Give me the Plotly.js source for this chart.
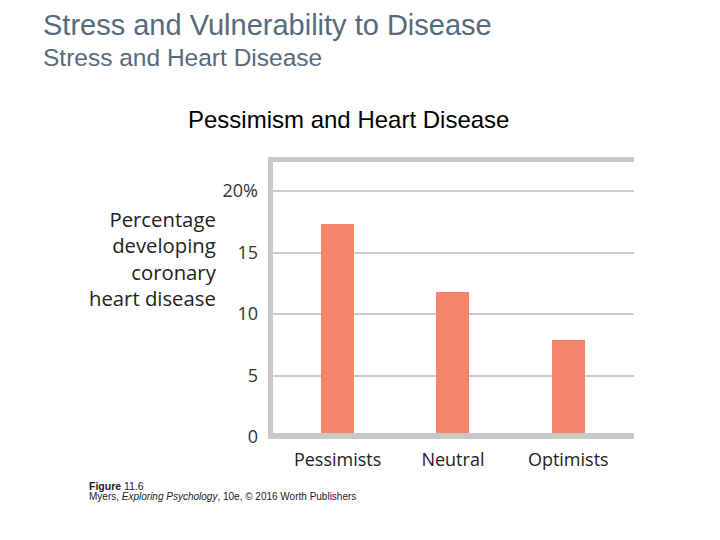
<!DOCTYPE html>
<html>
<head>
<meta charset="utf-8">
<script src="https://cdn.plot.ly/plotly-3.0.1.min.js"></script>
<style>html,body{margin:0;padding:0;background:#fff;}#chart{width:720px;height:540px;}</style>
</head>
<body>
<div id="chart"></div>
<script>
const categories = ["Pessimists", "Neutral", "Optimists"];
const percentages = [17.3, 11.8, 7.9];
const tickValues = [0, 5, 10, 15, 20];
const tickLabels = ["0", "5", "10", "15", "20%"];
const yTitleLines = ["Percentage", "developing", "coronary", "heart disease"];

const W = 720, H = 540;
const L = 273, R = 634, T = 162, B = 437;
const px = x => (x - L) / (R - L);
const py = y => (B - y) / (B - T);

const frameColor = "#c8c8c8";
const slate = "#566a7e";

const trace = {
  type: "bar",
  x: categories,
  y: percentages,
  width: 0.286,
  marker: {color: "#f4846a", line: {width: 0}},
  hoverinfo: "x+y"
};

const layout = {
  width: W, height: H,
  paper_bgcolor: "#ffffff",
  plot_bgcolor: "#ffffff",
  showlegend: false,
  margin: {l: L, r: W - R, t: T, b: H - B, pad: 0},
  bargap: 0,
  xaxis: {
    type: "category",
    range: [-0.56, 2.57],
    showgrid: false, zeroline: false, showline: false,
    ticks: "",
    tickfont: {family: "Open Sans", size: 18, color: "#222"},
    ticklabelstandoff: 10,
    fixedrange: true
  },
  yaxis: {
    range: [0, (B - T) / 12.3],
    tickvals: tickValues,
    ticktext: tickLabels,
    showgrid: true, gridcolor: "#cbcbcb", gridwidth: 2,
    zeroline: false, showline: false,
    ticks: "",
    tickfont: {family: "Open Sans", size: 18, color: "#333"},
    ticklabelstandoff: 14,
    fixedrange: true
  },
  shapes: [
    {type: "rect", xref: "paper", yref: "paper", x0: px(268), x1: px(273), y0: py(439), y1: py(157), fillcolor: frameColor, line: {width: 0}},
    {type: "rect", xref: "paper", yref: "paper", x0: px(268), x1: px(634), y0: py(162), y1: py(157), fillcolor: frameColor, line: {width: 0}},
    {type: "rect", xref: "paper", yref: "paper", x0: px(268), x1: px(634), y0: py(439), y1: py(433), fillcolor: frameColor, line: {width: 0}}
  ],
  annotations: [
    {xref: "paper", yref: "paper", x: px(41), y: py(25), xanchor: "left", yanchor: "middle", showarrow: false,
     text: "Stress and Vulnerability to Disease", font: {family: "Liberation Sans, Arial", size: 29, color: slate}},
    {xref: "paper", yref: "paper", x: px(41), y: py(57), xanchor: "left", yanchor: "middle", showarrow: false,
     text: "Stress and Heart Disease", font: {family: "Liberation Sans, Arial", size: 24.5, color: slate}},
    {xref: "paper", yref: "paper", x: px(348), y: py(119), xanchor: "center", yanchor: "middle", showarrow: false,
     text: "Pessimism and Heart Disease", font: {family: "Liberation Sans, Arial", size: 24, color: "#000"}},
    {xref: "paper", yref: "paper", x: px(219), y: py(258), xanchor: "right", yanchor: "middle", align: "right", showarrow: false,
     text: yTitleLines.join("<br>"), font: {family: "Open Sans", size: 20.3, color: "#222"}},
    {xref: "paper", yref: "paper", x: px(87), y: py(486), xanchor: "left", yanchor: "middle", showarrow: false,
     text: "<b>Figure</b> 11.6", font: {family: "Liberation Sans, Arial", size: 10.5, color: "#222"}},
    {xref: "paper", yref: "paper", x: px(87), y: py(496), xanchor: "left", yanchor: "middle", showarrow: false,
     text: "Myers, <i>Exploring Psychology</i>, 10e, © 2016 Worth Publishers", font: {family: "Liberation Sans, Arial", size: 10, color: "#222"}}
  ]
};

Plotly.newPlot("chart", [trace], layout, {displayModeBar: false, staticPlot: true});
</script>
</body>
</html>
